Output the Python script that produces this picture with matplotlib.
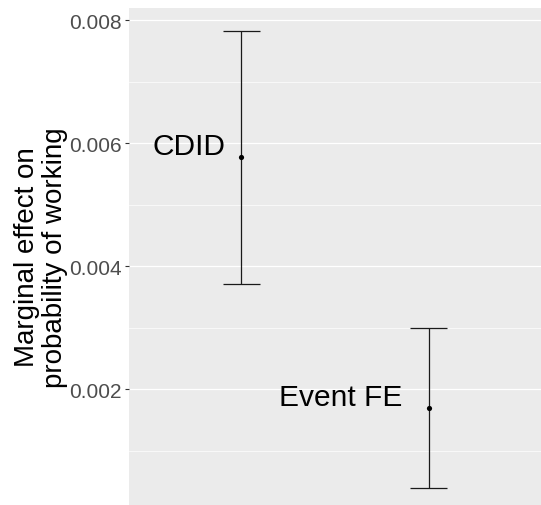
import matplotlib
matplotlib.use("Agg")
import matplotlib.pyplot as plt
import numpy as np

plt.rcParams['font.family'] = ['Liberation Sans', 'DejaVu Sans']

# Data
categories = ["CDID", "Event FE"]
estimates = [0.00577, 0.00170]
lower = [0.00372, 0.00040]
upper = [0.00782, 0.00300]
label_y = [0.00596, 0.00187]
y_ticks = [0.002, 0.004, 0.006, 0.008]
y_tick_labels = ["0.002", "0.004", "0.006", "0.008"]
y_minor = [0.001, 0.003, 0.005, 0.007]

fig = plt.figure(figsize=(5.41, 5.06), dpi=100)
ax = fig.add_axes([129/541, 0, 1 - 129/541, 1 - 9/506])
ax.set_facecolor('#EBEBEB')
for s in ax.spines.values():
    s.set_visible(False)

x = np.arange(1, len(categories) + 1)
cap_half = 0.1

for yv in y_ticks:
    ax.axhline(yv, color='white', lw=0.9, zorder=0)
for yv in y_minor:
    ax.axhline(yv, color='white', lw=0.5, zorder=0)

ax.vlines(x, lower, upper, color='#1a1a1a', lw=0.9, zorder=2)
ax.hlines(lower, x - cap_half, x + cap_half, color='#1a1a1a', lw=0.9, zorder=2)
ax.hlines(upper, x - cap_half, x + cap_half, color='#1a1a1a', lw=0.9, zorder=2)
ax.scatter(x, estimates, s=14, color='black', zorder=3, linewidths=0)

offsets = [0.085, 0.14]
for xi, lab, ly, off in zip(x, categories, label_y, offsets):
    ax.text(xi - off, ly, lab, ha='right', va='center', fontsize=21.5, color='black')

ax.set_xlim(0.4, 2.6)
ax.set_ylim(0.000119, 0.0082)
ax.set_xticks([])
ax.set_yticks(y_ticks)
ax.set_yticklabels(y_tick_labels)
ax.tick_params(axis='y', length=3, width=0.8, color='#333333', labelcolor='#4D4D4D',
               labelsize=15, pad=2)
ax.set_ylabel("Marginal effect on\nprobability of working", fontsize=20,
              color='black', labelpad=1, linespacing=1.1)
ax.grid(False)

fig.savefig("out.png", dpi=100)
